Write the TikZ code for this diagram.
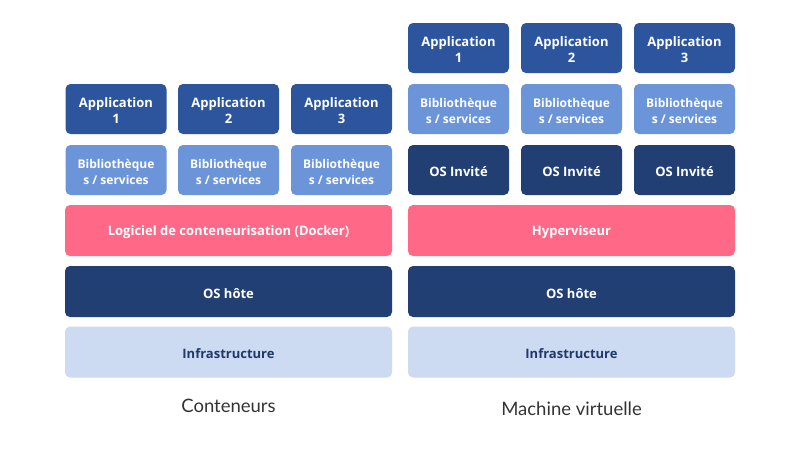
\documentclass[tikz,border=0pt]{standalone}
\usepackage{fontspec}
\setmainfont{Open Sans}
\newfontfamily\capfont{Lato}
\definecolor{appblue}{HTML}{2C559D}
\definecolor{libblue}{HTML}{6B95D8}
\definecolor{osblue}{HTML}{213F73}
\definecolor{pinkc}{HTML}{FF6987}
\definecolor{infrac}{HTML}{CCDAF2}
\definecolor{infratext}{HTML}{1E3A6B}
\definecolor{labelc}{HTML}{333333}
\tikzset{
  box/.style={rounded corners=5pt, inner sep=0pt, align=center, draw=none,
    font=\fontsize{13}{16}\selectfont\bfseries},
  small/.style={minimum width=101pt, minimum height=50pt},
  wide/.style={minimum width=327pt, minimum height=51pt},
  appbox/.style={box, small, fill=appblue, text=white},
  libbox/.style={box, small, fill=libblue, text=white, font=\fontsize{12}{16}\selectfont\bfseries},
  osbox/.style={box, fill=osblue, text=white},
  pinkbox/.style={box, wide, fill=pinkc, text=white},
  infrabox/.style={box, wide, fill=infrac, text=infratext},
  txt/.style={fill=none, minimum width=0pt, minimum height=0pt},
  caption/.style={text=labelc, font=\capfont\fontsize{18.5}{20}\selectfont}
}
% #1 style, #2 name, #3 position, #4 text
\newcommand{\layer}[4]{%
  \node[#1] (#2) at (#3) {};
  \node[#1, txt] (#2-t) at ([yshift=-2pt]#2.center) {#4};}
\begin{document}
\begin{tikzpicture}[x=1pt,y=-1pt]
\useasboundingbox (0,0) rectangle (800,451);
% Left: containers
\layer{appbox}{la1}{116,109}{Application\\1}
\layer{appbox}{la2}{228.5,109}{Application\\2}
\layer{appbox}{la3}{341.5,109}{Application\\3}
\layer{libbox}{ll1}{116,170}{Bibliothèque\\s / services}
\layer{libbox}{ll2}{228.5,170}{Bibliothèque\\s / services}
\layer{libbox}{ll3}{341.5,170}{Bibliothèque\\s / services}
\layer{pinkbox}{ldock}{228.5,230.5}{Logiciel de conteneurisation (Docker)}
\layer{osbox, wide}{lhost}{228.5,291.5}{OS hôte}
\layer{infrabox}{linfra}{228.5,352}{Infrastructure}
\node[caption] (lcap) at (228.5,406) {Conteneurs};
% Right: virtual machine
\layer{appbox}{ra1}{458.5,48}{Application\\1}
\layer{appbox}{ra2}{571.5,48}{Application\\2}
\layer{appbox}{ra3}{684.5,48}{Application\\3}
\layer{libbox}{rl1}{458.5,109}{Bibliothèque\\s / services}
\layer{libbox}{rl2}{571.5,109}{Bibliothèque\\s / services}
\layer{libbox}{rl3}{684.5,109}{Bibliothèque\\s / services}
\layer{osbox, small}{ro1}{458.5,170}{OS Invité}
\layer{osbox, small}{ro2}{571.5,170}{OS Invité}
\layer{osbox, small}{ro3}{684.5,170}{OS Invité}
\layer{pinkbox}{rhyp}{571.5,230.5}{Hyperviseur}
\layer{osbox, wide}{rhost}{571.5,291.5}{OS hôte}
\layer{infrabox}{rinfra}{571.5,352}{Infrastructure}
\node[caption] (rcap) at (571.5,409) {Machine virtuelle};
\end{tikzpicture}
\end{document}
